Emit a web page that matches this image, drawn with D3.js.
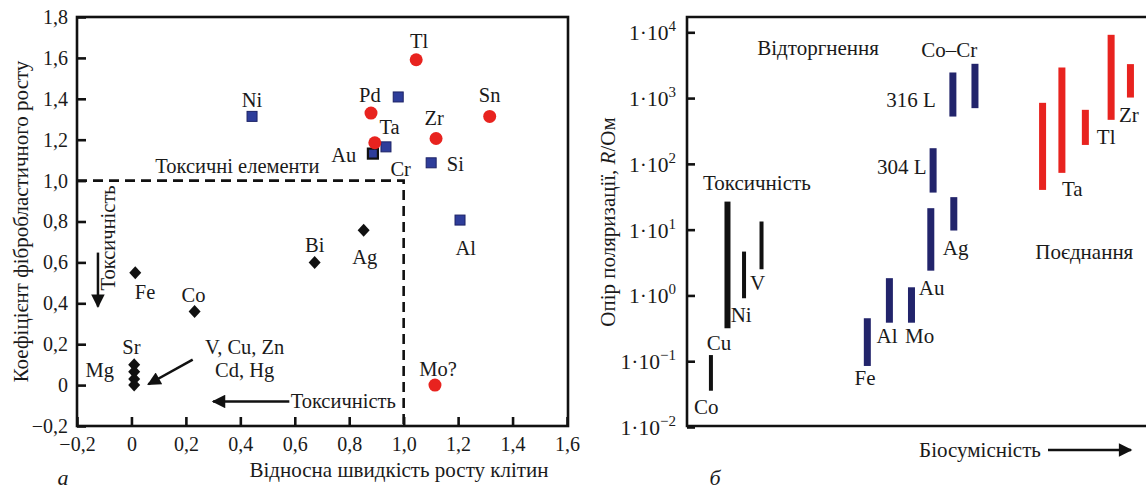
<!DOCTYPE html>
<html>
<head>
<meta charset="utf-8">
<script src="https://cdn.jsdelivr.net/npm/d3@7/dist/d3.min.js"></script>
<style>
	html, body { margin: 0; padding: 0; background: #fff; }
	svg text { font-family: "Liberation Serif", "Times New Roman", serif; fill: #1a1a1a; }
</style>
</head>
<body>
<svg id="chart" width="1146" height="488"></svg>
<script>
(function (d3) {
	'use strict';

	// ---- left panel (a) ----
	var leftXTicks = [-0.2, 0, 0.2, 0.4, 0.6, 0.8, 1.0, 1.2, 1.4, 1.6];
	var leftYTicks = [-0.2, 0, 0.2, 0.4, 0.6, 0.8, 1.0, 1.2, 1.4, 1.6, 1.8];

	// blue squares
	var squareNames = ['Ni', 'Ta', 'Cr', 'Au', 'Si', 'Al'];
	var squareX = [0.443, 0.980, 0.935, 0.887, 1.101, 1.207];
	var squareY = [1.314, 1.409, 1.165, 1.132, 1.087, 0.807];

	// red circles
	var circleNames = ['Tl', 'Pd', 'Ti', 'Zr', 'Sn', 'Mo'];
	var circleX = [1.046, 0.880, 0.894, 1.119, 1.316, 1.115];
	var circleY = [1.591, 1.330, 1.185, 1.206, 1.314, 0.0];

	// black diamonds
	var diamondNames = ['Ag', 'Bi', 'Fe', 'Co', 'Sr', 'Mg', 'V', 'Cu'];
	var diamondX = [0.853, 0.673, 0.014, 0.232, 0.01, 0.01, 0.01, 0.01];
	var diamondY = [0.757, 0.600, 0.549, 0.360, 0.100, 0.065, 0.030, 0.0];

	var leftLabels = [
		{t: 'Ni', x: 0.443, y: 1.396}, {t: 'Tl', x: 1.057, y: 1.685},
		{t: 'Pd', x: 0.876, y: 1.421}, {t: 'Ta', x: 0.948, y: 1.264},
		{t: 'Au', x: 0.780, y: 1.126}, {t: 'Cr', x: 0.989, y: 1.058},
		{t: 'Zr', x: 1.112, y: 1.305}, {t: 'Sn', x: 1.316, y: 1.421},
		{t: 'Si', x: 1.190, y: 1.083}, {t: 'Al', x: 1.228, y: 0.672},
		{t: 'Токсичні елементи', x: 0.389, y: 1.069},
		{t: 'Mo?', x: 1.126, y: 0.080}, {t: 'Bi', x: 0.673, y: 0.685},
		{t: 'Ag', x: 0.857, y: 0.624}, {t: 'Fe', x: 0.050, y: 0.456},
		{t: 'Co', x: 0.228, y: 0.440}, {t: 'Sr', x: 0.0, y: 0.184},
		{t: 'Mg', x: -0.116, y: 0.072}, {t: 'V, Cu, Zn', x: 0.416, y: 0.184},
		{t: 'Cd, Hg', x: 0.416, y: 0.072}
	];

	// ---- right panel (б) ----
	var rightYTicks = [1e-2, 1e-1, 1e0, 1e1, 1e2, 1e3, 1e4];

	var toxicNames = ['Co', 'Cu', 'Ni', 'V'];
	var toxicX = [0.52, 0.88, 1.24, 1.62];
	var toxicLo = [0.0356, 0.317, 0.906, 2.5];
	var toxicHi = [0.124, 26.7, 4.64, 13.3];

	var blueNames = ['Fe', 'Al', 'Mo', 'Au', '304 L', 'Ag', '316 L', 'Co–Cr'];
	var blueX = [3.92, 4.40, 4.88, 5.30, 5.35, 5.80, 5.78, 6.26];
	var blueLo = [0.0847, 0.385, 0.385, 2.38, 36.6, 9.7, 524, 703];
	var blueHi = [0.45, 1.83, 1.33, 21.2, 173, 31.2, 2450, 3320];

	var redNames = ['Ta', 'Ta', 'Tl', 'Ti', 'Zr'];
	var redX = [7.73, 8.15, 8.66, 9.22, 9.64];
	var redLo = [40.2, 73, 194, 467, 1019];
	var redHi = [847, 2917, 663, 9160, 3283];

	var rightLabels = [
		{t: 'Токсичність', x: 1.52, y: 51.4, a: 'middle'},
		{t: 'Відторгнення', x: 2.85, y: 5808, a: 'middle'},
		{t: 'Co–Cr', x: 5.70, y: 5420, a: 'middle'},
		{t: '316 L', x: 5.41, y: 940, a: 'end'},
		{t: '304 L', x: 5.21, y: 91, a: 'end'},
		{t: 'Ag', x: 5.56, y: 5.28, a: 'start'},
		{t: 'Au', x: 5.04, y: 1.30, a: 'start'},
		{t: 'Al', x: 4.12, y: 0.242, a: 'start'},
		{t: 'Mo', x: 4.74, y: 0.242, a: 'start'},
		{t: 'Fe', x: 3.87, y: 0.0556, a: 'middle'},
		{t: 'Co', x: 0.15, y: 0.0204, a: 'start'},
		{t: 'Cu', x: 0.43, y: 0.191, a: 'start'},
		{t: 'Ni', x: 0.95, y: 0.505, a: 'start'},
		{t: 'V', x: 1.37, y: 1.55, a: 'start'},
		{t: 'Ta', x: 8.15, y: 41.7, a: 'start'},
		{t: 'Tl', x: 8.91, y: 257, a: 'start'},
		{t: 'Zr', x: 9.39, y: 556, a: 'start'},
		{t: 'Поєднання', x: 7.57, y: 4.59, a: 'start'}
	];

	var svg = d3.select('#chart');
	var FONT = 20.5;      // annotations
	var TICK_FONT = 20;
	var TITLE_FONT = 21;

	var defs = svg.append('defs');
	defs.append('marker')
		.attr('id', 'head')
		.attr('viewBox', '0 0 10 10')
		.attr('refX', 9).attr('refY', 5)
		.attr('markerWidth', 6).attr('markerHeight', 5.4)
		.attr('markerUnits', 'strokeWidth')
		.attr('orient', 'auto')
		.append('path')
		.attr('d', 'M0,0L10,5L0,10z')
		.attr('fill', '#111');

	drawLeft();
	drawRight();

	function drawLeft() {
		var x = d3.scaleLinear().domain([-0.2, 1.6]).range([77, 567]);
		var y = d3.scaleLinear().domain([-0.2, 1.8]).range([426, 17]);
		var g = svg.append('g');
		var fmt = function (v) {
			return (Math.abs(v) < 1e-9 ? '0' : d3.format('.1f')(v)).replace('.', ',').replace('-', '\u2212');
		};

		// ticks inside the frame
		g.append('g').attr('transform', 'translate(0,426)')
			.call(d3.axisBottom(x).tickValues(leftXTicks).tickSize(-9).tickPadding(11).tickFormat(fmt))
			.call(styleAxis);
		g.append('g').attr('transform', 'translate(77,0)')
			.call(d3.axisLeft(y).tickValues(leftYTicks).tickSize(-9).tickPadding(9).tickFormat(fmt))
			.call(styleAxis);

		g.append('rect')
			.attr('x', 77).attr('y', 17)
			.attr('width', 491).attr('height', 409)
			.attr('fill', 'none').attr('stroke', '#111').attr('stroke-width', 2.6);

		// dashed region of toxic elements
		g.append('path')
			.attr('d', 'M' + x(-0.2) + ',' + y(1.0) + 'H' + x(1.0) + 'V' + y(-0.2))
			.attr('fill', 'none').attr('stroke', '#111')
			.attr('stroke-width', 2.6).attr('stroke-dasharray', '10,6');

		// arrows
		arrow(g, x(0.58), y(-0.08), x(0.30), y(-0.08));
		arrow(g, x(-0.123), y(0.648), x(-0.123), y(0.384));
		arrow(g, x(0.225), y(0.125), x(0.062), y(0.004));

		g.append('text')
			.attr('x', x(0.585)).attr('y', y(-0.08))
			.attr('dominant-baseline', 'central')
			.attr('font-size', FONT)
			.text('Токсичність');
		g.append('text')
			.attr('transform', 'translate(' + x(-0.085) + ',' + y(0.72) + ') rotate(-90)')
			.attr('text-anchor', 'middle').attr('dominant-baseline', 'central')
			.attr('font-size', FONT)
			.text('Токсичність');

		// diamonds
		g.selectAll('path.dia')
			.data(diamondNames)
			.enter().append('path')
			.attr('class', 'dia')
			.attr('d', 'M0,-6.5L6,0L0,6.5L-6,0Z')
			.attr('transform', function (d, i) {
				return 'translate(' + x(diamondX[i]) + ',' + y(diamondY[i]) + ')';
			})
			.attr('fill', '#111');

		// squares
		g.selectAll('rect.sq')
			.data(squareNames)
			.enter().append('rect')
			.attr('class', 'sq')
			.attr('x', function (d, i) { return x(squareX[i]) - 5; })
			.attr('y', function (d, i) { return y(squareY[i]) - 5; })
			.attr('width', 10).attr('height', 10)
			.attr('fill', '#2e3d9a')
			.attr('stroke', function (d) { return d === 'Au' ? '#111' : '#1c2266'; })
			.attr('stroke-width', function (d) { return d === 'Au' ? 2.2 : 1; });

		// circles
		g.selectAll('circle.pt')
			.data(circleNames)
			.enter().append('circle')
			.attr('class', 'pt')
			.attr('cx', function (d, i) { return x(circleX[i]); })
			.attr('cy', function (d, i) { return y(circleY[i]); })
			.attr('r', 6.5)
			.attr('fill', '#e8231f');

		g.selectAll('text.lbl')
			.data(leftLabels)
			.enter().append('text')
			.attr('class', 'lbl')
			.attr('x', function (d) { return x(d.x); })
			.attr('y', function (d) { return y(d.y); })
			.attr('text-anchor', 'middle')
			.attr('dominant-baseline', 'central')
			.attr('font-size', FONT)
			.text(function (d) { return d.t; });

		g.append('text')
			.attr('x', 399).attr('y', 470)
			.attr('text-anchor', 'middle').attr('dominant-baseline', 'central')
			.attr('font-size', TITLE_FONT)
			.text('Відносна швидкість росту клітин');
		g.append('text')
			.attr('transform', 'translate(21,' + y(0.8) + ') rotate(-90)')
			.attr('text-anchor', 'middle').attr('dominant-baseline', 'central')
			.attr('font-size', TITLE_FONT)
			.text('Коефіцієнт фібробластичного росту');
		g.append('text')
			.attr('x', 63).attr('y', 477)
			.attr('text-anchor', 'middle').attr('dominant-baseline', 'central')
			.attr('font-size', TITLE_FONT + 1).attr('font-style', 'italic')
			.text('а');
	}

	function drawRight() {
		var x = d3.scaleLinear().domain([0, 10]).range([687, 1147]);
		var y = d3.scaleLog().domain([1e-2, 1e4]).range([427, 32.3]);
		var g = svg.append('g');

		var ax = g.append('g').attr('transform', 'translate(687,0)')
			.call(d3.axisLeft(y).tickValues(rightYTicks).tickSize(-8).tickPadding(10).tickFormat(''))
			.call(styleAxis);
		ax.selectAll('.tick').each(function (v) {
			var p = Math.round(Math.log10(v));
			var t = d3.select(this).append('text')
				.attr('x', -11).attr('dy', '0.35em')
				.attr('text-anchor', 'end')
				.attr('font-size', 21.5);
			t.append('tspan').text('1·10');
			t.append('tspan')
				.attr('dy', '-0.6em').attr('font-size', 15)
				.text(p < 0 ? '\u2212' + (-p) : String(p));
		});

		g.append('path')
			.attr('d', 'M1152,17H687V426H1152')
			.attr('fill', 'none').attr('stroke', '#111').attr('stroke-width', 2.6);

		bars(g, x, y, 'tox', toxicNames, toxicX, toxicLo, toxicHi, '#111', function (n) { return n === 'Cu' ? 6 : 4; });
		bars(g, x, y, 'blu', blueNames, blueX, blueLo, blueHi, '#22246b', function () { return 7; });
		bars(g, x, y, 'red', redNames, redX, redLo, redHi, '#e8231f', function () { return 7; });

		g.selectAll('text.rl')
			.data(rightLabels)
			.enter().append('text')
			.attr('class', 'rl')
			.attr('x', function (d) { return x(d.x); })
			.attr('y', function (d) { return y(d.y); })
			.attr('text-anchor', function (d) { return d.a; })
			.attr('dominant-baseline', 'central')
			.attr('font-size', 21)
			.text(function (d) { return d.t; });

		var yl = g.append('text')
			.attr('transform', 'translate(608,222) rotate(-90)')
			.attr('text-anchor', 'middle').attr('dominant-baseline', 'central')
			.attr('font-size', TITLE_FONT);
		yl.append('tspan').text('Опір поляризації, ');
		yl.append('tspan').attr('font-style', 'italic').text('R');
		yl.append('tspan').text('/Ом');

		g.append('text')
			.attr('x', 980).attr('y', 450)
			.attr('text-anchor', 'middle').attr('dominant-baseline', 'central')
			.attr('font-size', TITLE_FONT)
			.text('Біосумісність');
		arrow(g, 1048, 450, 1131, 450);
		g.append('text')
			.attr('x', 715).attr('y', 477)
			.attr('text-anchor', 'middle').attr('dominant-baseline', 'central')
			.attr('font-size', TITLE_FONT + 1).attr('font-style', 'italic')
			.text('б');
	}

	function bars(g, x, y, cls, names, xs, lo, hi, color, widthOf) {
		g.selectAll('rect.' + cls)
			.data(names)
			.enter().append('rect')
			.attr('class', cls)
			.attr('x', function (d, i) { return x(xs[i]) - widthOf(d) / 2; })
			.attr('y', function (d, i) { return y(hi[i]); })
			.attr('width', function (d) { return widthOf(d); })
			.attr('height', function (d, i) { return y(lo[i]) - y(hi[i]); })
			.attr('fill', color);
	}

	function arrow(g, x1, y1, x2, y2) {
		g.append('line')
			.attr('x1', x1).attr('y1', y1)
			.attr('x2', x2).attr('y2', y2)
			.attr('stroke', '#111').attr('stroke-width', 2.5)
			.attr('marker-end', 'url(#head)');
	}

	function styleAxis(sel) {
		sel.attr('font-family', null);
		sel.select('.domain').remove();
		sel.selectAll('.tick line').attr('stroke', '#111').attr('stroke-width', 2.6);
		sel.selectAll('.tick text')
			.attr('font-size', TICK_FONT).attr('fill', '#1a1a1a');
	}
})(d3);
</script>
</body>
</html>
